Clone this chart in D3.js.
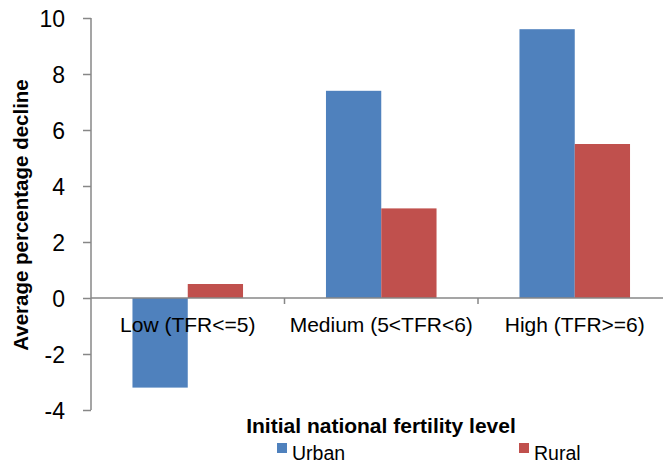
<!DOCTYPE html>
<html>
<head>
<meta charset="utf-8">
<script src="https://cdn.jsdelivr.net/npm/d3@7"></script>
<style>
  body { margin: 0; background: #fff; }
  text { font-family: "Liberation Sans", Arial, sans-serif; fill: #000; }
</style>
</head>
<body>
<svg width="663" height="465"></svg>
<script>
const categories = ['Low (TFR<=5)', 'Medium (5<TFR<6)', 'High (TFR>=6)'];
const seriesNames = ['Urban', 'Rural'];
const urban = [-3.2, 7.4, 9.6];
const rural = [0.5, 3.2, 5.5];
const yTicks = [-4, -2, 0, 2, 4, 6, 8, 10];

const colors = { Urban: '#4F81BD', Rural: '#C0504D', axis: '#878787' };
const FONT = '"Liberation Sans", Arial, sans-serif';

const svg = d3.select('svg');

// plot area, band step ~193.5 px (right edge runs off the picture)
const x = d3.scaleBand().domain(categories).range([91, 91 + 3 * 193.5]);
const inner = d3.scaleBand().domain(seriesNames).range([0, x.bandwidth()]).paddingInner(0).paddingOuter(0.75);
const y = d3.scaleLinear().domain([-4, 10]).range([410, 18]);

const rows = categories.map((c, i) => ({ cat: c, values: [
    { name: 'Urban', v: urban[i] }, { name: 'Rural', v: rural[i] }] }));

// bars
svg.append('g').selectAll('g')
    .data(rows).join('g')
    .attr('transform', d => `translate(${x(d.cat)},0)`)
    .selectAll('rect')
    .data(d => d.values).join('rect')
    .attr('x', d => inner(d.name))
    .attr('width', inner.bandwidth())
    .attr('y', d => y(Math.max(0, d.v)))
    .attr('height', d => Math.abs(y(d.v) - y(0)))
    .attr('fill', d => colors[d.name]);

// y axis
const yAxis = svg.append('g')
    .attr('transform', 'translate(91,0)')
    .call(d3.axisLeft(y).tickValues(yTicks).tickSize(8).tickPadding(18).tickFormat(d => String(d)));
yAxis.select('.domain').attr('stroke', colors.axis).attr('stroke-width', 1.5).attr('d', 'M0,18V410');
yAxis.selectAll('.tick line').attr('stroke', colors.axis).attr('stroke-width', 1.5);
yAxis.selectAll('.tick text').attr('font-size', 23).attr('fill', '#000')
    .attr('font-family', FONT).attr('dy', '0.36em');

// x axis along zero
const xAxisG = svg.append('g');
xAxisG.append('line')
    .attr('x1', 91).attr('x2', 663)
    .attr('y1', y(0)).attr('y2', y(0))
    .attr('stroke', colors.axis).attr('stroke-width', 1.5);
xAxisG.selectAll('line.tick')
    .data(categories.slice(1)).join('line')
    .attr('class', 'tick')
    .attr('x1', d => x(d)).attr('x2', d => x(d))
    .attr('y1', y(0)).attr('y2', y(0) + 6)
    .attr('stroke', colors.axis).attr('stroke-width', 1.5);
xAxisG.selectAll('text')
    .data(categories).join('text')
    .attr('x', d => x(d) + x.bandwidth() / 2)
    .attr('y', y(0) + 34)
    .attr('text-anchor', 'middle')
    .attr('font-size', 21)
    .text(d => d);

// titles
svg.append('text')
    .attr('transform', 'translate(28,215) rotate(-90)')
    .attr('text-anchor', 'middle')
    .attr('font-size', 20.5)
    .attr('font-weight', 'bold')
    .text('Average percentage decline');

svg.append('text')
    .attr('x', 381).attr('y', 433)
    .attr('text-anchor', 'middle')
    .attr('font-size', 21)
    .attr('font-weight', 'bold')
    .text('Initial national fertility level');

// legend
const legendX = [277, 519];
const legend = svg.append('g').selectAll('g')
    .data(seriesNames).join('g')
    .attr('transform', (d, i) => `translate(${legendX[i]},443)`);
legend.append('rect')
    .attr('width', 10).attr('height', 10)
    .attr('fill', d => colors[d]);
legend.append('text')
    .attr('x', 15).attr('y', 17)
    .attr('font-size', 19.5)
    .text(d => d);
</script>
</body>
</html>
